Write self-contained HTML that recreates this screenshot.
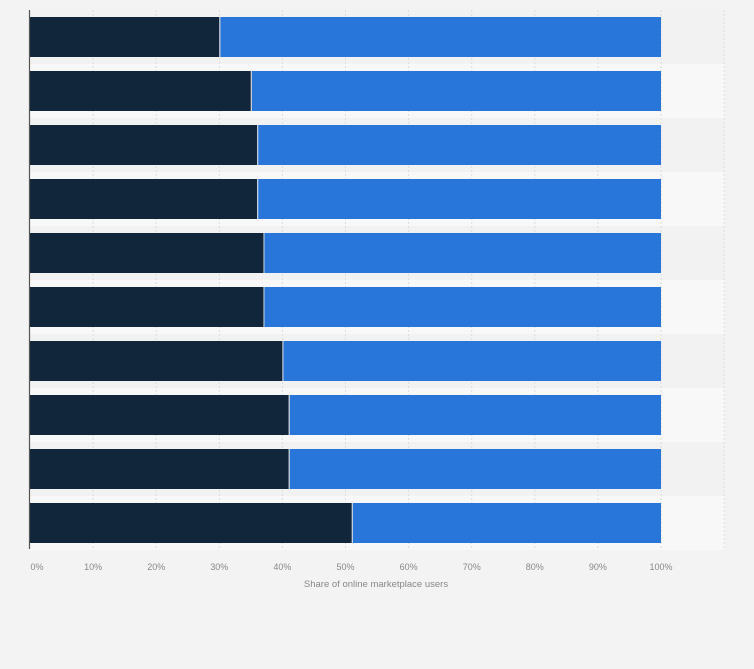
<!DOCTYPE html>
<html><head><style>
body{margin:0;background:#f3f3f3;}
svg{display:block;font-family:"Liberation Sans",sans-serif;}
</style></head><body>
<svg width="754" height="669" viewBox="0 0 754 669" xmlns="http://www.w3.org/2000/svg">
<rect width="754" height="669" fill="#f3f3f3"/>
<g id="bands"></g>
<g id="grid"></g>
<g id="bars"></g>
<line x1="29.5" y1="10" x2="29.5" y2="549" stroke="#555" stroke-width="1.2"/>
<g id="ticks" font-size="9" fill="#888" text-anchor="middle"></g>
<text x="376" y="587" font-size="9.5" fill="#888" text-anchor="middle">Share of online marketplace users</text>
<script>
var ns="http://www.w3.org/2000/svg";
function el(p,t,a,txt){var e=document.createElementNS(ns,t);for(var k in a)e.setAttribute(k,a[k]);if(txt)e.textContent=txt;document.getElementById(p).appendChild(e);}
var vals=[30,35,36,36,37,37,40,41,41,51];
for(var i=0;i<10;i++){
 el("bands","rect",{x:30,y:10+54*i,width:695,height:54,fill:i%2?"#f8f8f8":"#f2f2f2"});
}
for(var j=1;j<=11;j++){var x=30+63.1*j;
 el("grid","line",{x1:x,y1:10,x2:x,y2:549,stroke:"#dcdcdc","stroke-dasharray":"2,2","stroke-width":1});}
for(var i=0;i<10;i++){var y=17+54*i,w=vals[i]*6.31;
 el("bars","rect",{x:30,y:y,width:w,height:40,fill:"#12263b"});
 el("bars","rect",{x:30+w+1,y:y,width:631-w-1,height:40,fill:"#2876d9"});
 el("bars","line",{x1:30+w+0.5,y1:y,x2:30+w+0.5,y2:y+40,stroke:"#c8d0da","stroke-width":1});}
for(var j=0;j<=10;j++){var x=30+63.1*j+(j==0?7:0);
 el("ticks","text",{x:x,y:570},j*10+"%");}
</script>
</svg>
</body></html>
